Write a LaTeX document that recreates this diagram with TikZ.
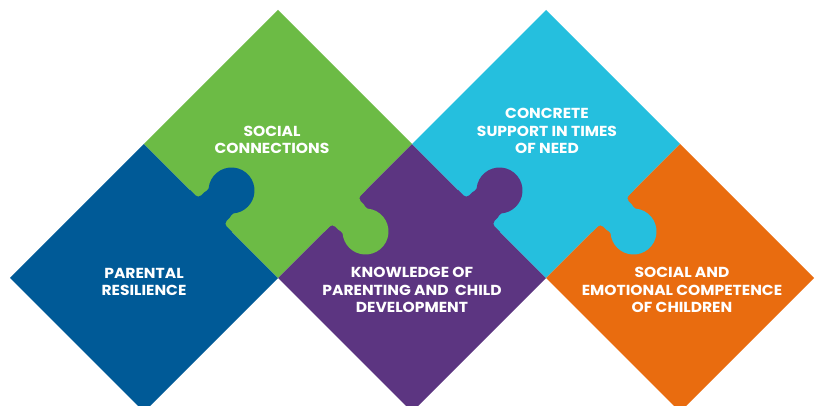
\documentclass[tikz,border=0pt]{standalone}
\usepackage{fontspec}
\setmainfont{Poppins}[FakeStretch=1.07]
\definecolor{pblue}{HTML}{005A97}
\definecolor{pgreen}{HTML}{6CBB45}
\definecolor{ppurple}{HTML}{5C3581}
\definecolor{pcyan}{HTML}{25BFDE}
\definecolor{porange}{HTML}{E96C0F}
% one square piece, standing on a corner, centred at (#2,#3)
\newcommand\puzzlepiece[3]{%
  \fill[#1] (#2-134,#3) -- (#2,#3+134) -- (#2+134,#3) -- (#2,#3-134) -- cycle;}
% a tab of colour #1 on the edge midpoint (#2,#3), pointing along #4+90 degrees
\newcommand\puzzleknob[4]{%
  \fill[#1, shift={(#2,#3)}, rotate=#4]
    (-30,-1) -- (-30,0) -- (-22,0) arc[start angle=-90,end angle=0,radius=4]
    -- (-18,8) .. controls (-18,10.5) and (-16.3,12.7) .. (-17.62,14.22)
    arc[start angle=220,end angle=-40,radius=23]
    .. controls (16.3,12.7) and (18,10.5) .. (18,8)
    -- (18,4) arc[start angle=180,end angle=270,radius=4]
    -- (30,0) -- (30,-1) -- cycle;}
\begin{document}
\begin{tikzpicture}[x=1pt,y=1pt,
  label/.style={text=white, font=\bfseries\fontsize{14.5}{17.5}\selectfont,
    align=center, inner sep=0pt}]
\useasboundingbox (0,0) rectangle (821,406);
\fill[white] (0,0) rectangle (821,406);
\clip (0,0) rectangle (821,406);

% the five pieces
\puzzlepiece{pblue}{144}{128}
\puzzlepiece{pgreen}{278}{262}
\puzzlepiece{ppurple}{412}{128}
\puzzlepiece{pcyan}{546}{262}
\puzzlepiece{porange}{680}{128}

% tabs locking neighbouring pieces together
\puzzleknob{pblue}{211}{195}{-45}
\puzzleknob{pgreen}{345}{195}{-135}
\puzzleknob{ppurple}{479}{195}{-45}
\puzzleknob{pcyan}{613}{195}{-135}

% captions
\node[label] (resilience) at (144,124) {PARENTAL\\RESILIENCE};
\node[label] (social) at (272,266) {SOCIAL\\CONNECTIONS};
\node[label] (knowledge) at (412,116) {KNOWLEDGE OF\\PARENTING AND~~CHILD\\DEVELOPMENT};
\node[label] (support) at (547,275) {CONCRETE\\SUPPORT IN TIMES\\OF NEED};
\node[label] (competence) at (682,116) {SOCIAL AND\\EMOTIONAL COMPETENCE\\OF CHILDREN};
\end{tikzpicture}
\end{document}
